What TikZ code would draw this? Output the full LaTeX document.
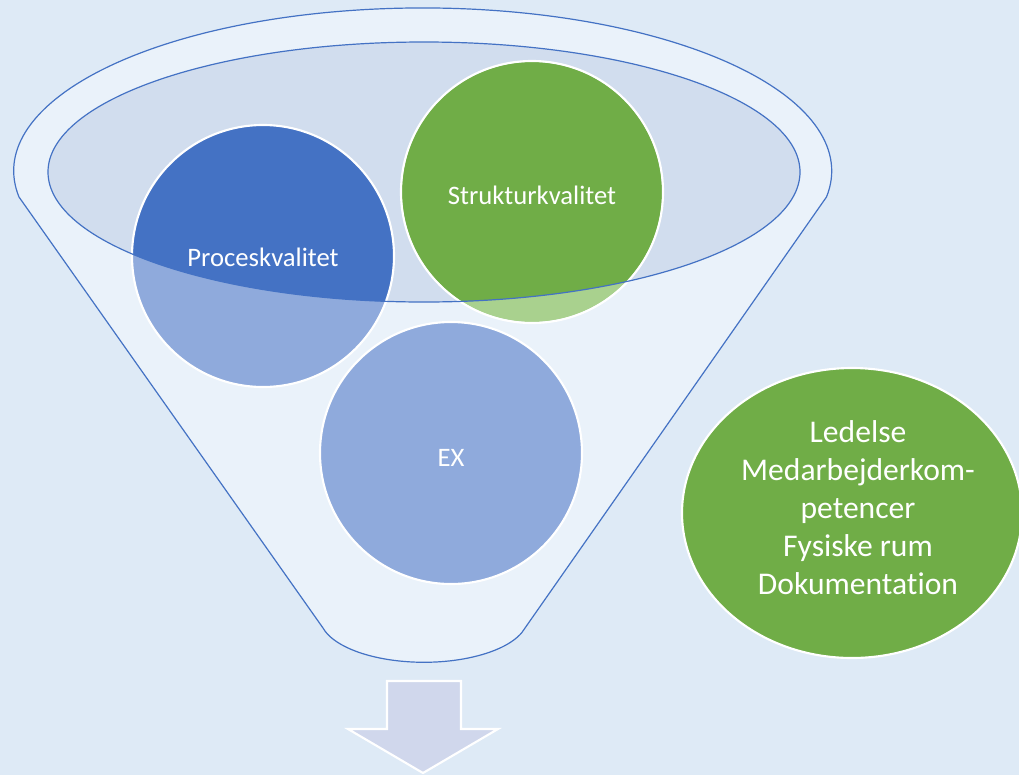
\documentclass[tikz,border=0pt]{standalone}
\usepackage{fontspec}
\setmainfont[Ligatures={NoCommon}]{Carlito}
\usetikzlibrary{shapes.geometric}
\definecolor{bg}{HTML}{DEEAF6}
\definecolor{funnelfill}{HTML}{EAF2FA}
\definecolor{innerfill}{HTML}{D1DDEE}
\definecolor{edge}{HTML}{4472C4}
\definecolor{bluedark}{HTML}{4472C4}
\definecolor{bluelight}{HTML}{8FAADC}
\definecolor{greendark}{HTML}{70AD47}
\definecolor{greenlight}{HTML}{A9D18E}
\definecolor{arrowfill}{HTML}{D0D7EC}
\begin{document}
\begin{tikzpicture}[x=0.75pt,y=-0.75pt,
  edgeline/.style={draw=edge, line width=0.9pt},
  circ/.style={circle, draw=white, line width=1.6pt, minimum size=196.5pt, inner sep=0pt},
  lbl/.style={text=white, font=\fontsize{20}{24}\selectfont},
  bigell/.style={ellipse, draw=white, line width=1.6pt, fill=greendark, minimum width=255pt, minimum height=217.5pt, inner sep=0pt},
  biglbl/.style={text=white, align=center, inner sep=0pt, font=\fontsize{23.7}{28.5}\selectfont}]
\fill[bg] (0,0) rectangle (1019,775);
\useasboundingbox (0,0) rectangle (1019,775);
% funnel body
\path[edgeline, fill=funnelfill] (19,197) arc[start angle=170.8, end angle=369.2, x radius=409, y radius=163]
  -- (525,628) arc[start angle=13.8, end angle=166.2, x radius=104, y radius=45] -- cycle;
% inner ellipse fill
\fill[innerfill] (424,172) ellipse[x radius=376, y radius=130];
% circle fills
\fill[bluelight] (263,256) circle[radius=131];
\fill[greenlight] (532,192) circle[radius=130];
\fill[bluelight] (451,453) circle[radius=131];
\begin{scope}
  \clip (424,172) ellipse[x radius=376, y radius=130];
  \fill[bluedark] (263,256) circle[radius=131];
  \fill[greendark] (532,192) circle[radius=130];
\end{scope}
% circle nodes
\node[circ] (p) at (263,256) {};
\node[circ] (s) at (532,192) {};
\node[circ] (ex) at (451,453) {};
% inner ellipse outline
\draw[edgeline] (424,172) ellipse[x radius=376, y radius=130];
% labels
\node[lbl] (pl) at (263,257) {Proceskvalitet};
\node[lbl] (sl) at (532,195) {Strukturkvalitet};
\node[lbl] (exl) at (451,458) {EX};
% arrow
\draw[white, line width=1.6pt, fill=arrowfill, line join=miter] (387,681) -- (461,681) -- (461,729) -- (498,729) -- (423,773) -- (348,729) -- (387,729) -- cycle;
% right ellipse
\node[bigell] (g) at (852,513) {};
\node[biglbl] (gl) at (858,508) {Ledelse\\Medarbejderkom-\\petencer\\Fysiske rum\\Dokumentation};
\end{tikzpicture}
\end{document}
